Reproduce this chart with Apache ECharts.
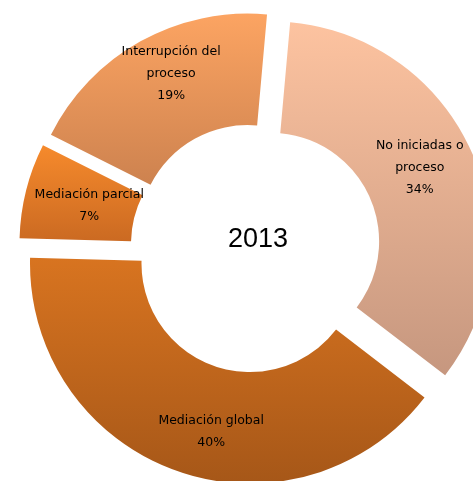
<!DOCTYPE html>
<html>
<head>
<meta charset="utf-8">
<script src="https://cdn.jsdelivr.net/npm/echarts@6/dist/echarts.min.js"></script>
<style>
html,body{margin:0;padding:0;background:#fff;}
#chart{width:473px;height:481px;}
</style>
</head>
<body>
<div id="chart"></div>
<script>
// Data
var categories = ['No iniciadas o\nproceso', 'Mediación global', 'Mediación parcial', 'Interrupción del\nproceso'];
var values = [34, 40, 7, 19];
var centerTitle = '2013';

// Styles (per slice, same order as categories)
var gradients = [
  ['#FDC3A0', '#C6977F'],
  ['#D87420', '#A65718'],
  ['#F68A2C', '#CB6A22'],
  ['#FCA462', '#CD824F']
];
var labelShift = [[-4, -6], [17, 11], [12, 3], [5, -14]];

var chart = echarts.init(document.getElementById('chart'), null, {renderer: 'canvas'});
var data = categories.map(function (name, i) {
  var g = {
    type: 'linear', x: 0, y: 0, x2: 0, y2: 1,
    colorStops: [{offset: 0, color: gradients[i][0]}, {offset: 1, color: gradients[i][1]}]
  };
  return {
    name: name,
    value: values[i],
    selected: true,
    itemStyle: {color: g},
    select: {itemStyle: {color: g}}
  };
});

chart.setOption({
  animation: false,
  backgroundColor: '#ffffff',
  graphic: [{
    type: 'text',
    left: 228,
    top: 226,
    style: {
      text: centerTitle,
      font: '27px "Liberation Sans", Arial, sans-serif',
      fill: '#000'
    }
  }],
  series: [{
    type: 'pie',
    center: [255.5, 248],
    radius: [108.5, 220],
    startAngle: 84.9,
    clockwise: true,
    selectedMode: 'multiple',
    selectedOffset: 16.5,
    avoidLabelOverlap: false,
    emphasis: {disabled: true},
    label: {
      show: true,
      position: 'inside',
      formatter: '{b}\n{d}%',
      color: '#000',
      fontFamily: '"DejaVu Sans", sans-serif',
      fontSize: 12.5,
      lineHeight: 22,
      align: 'center'
    },
    labelLine: {show: false},
    labelLayout: function (p) {
      var s = labelShift[p.dataIndex];
      return {dx: s[0], dy: s[1]};
    },
    data: data
  }]
});
</script>
</body>
</html>
